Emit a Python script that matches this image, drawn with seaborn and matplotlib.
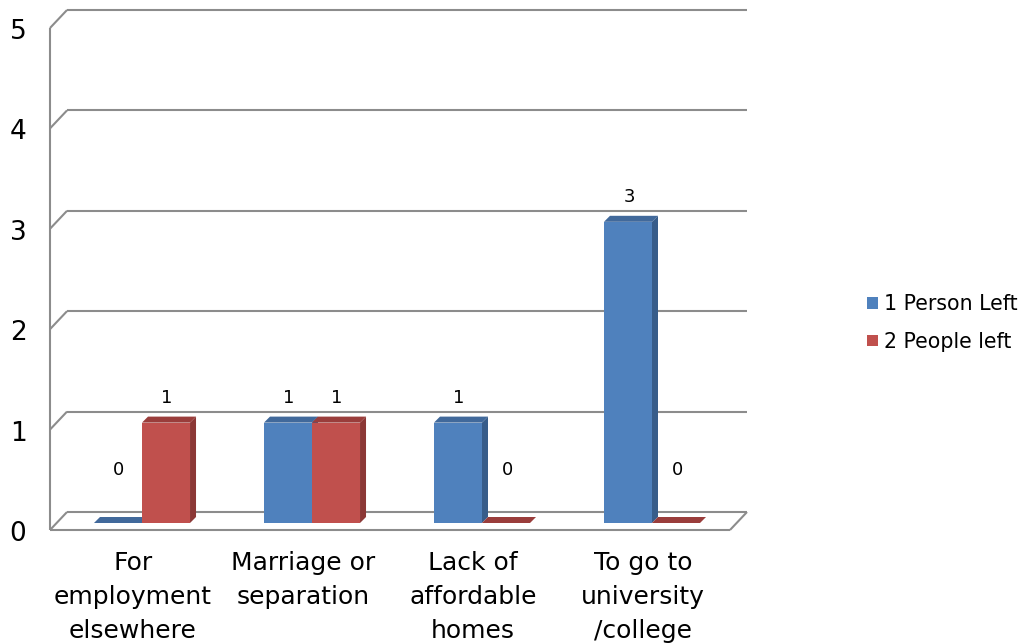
import matplotlib
matplotlib.use("Agg")
import matplotlib.pyplot as plt
import matplotlib.transforms as mtransforms
from matplotlib.patches import Polygon
import pandas as pd
import seaborn as sns

# ---- data -------------------------------------------------------------
categories = ["For\nemployment\nelsewhere", "Marriage or\nseparation",
              "Lack of\naffordable\nhomes", "To go to\nuniversity\n/college"]
series_names = ["1 Person Left", "2 People left"]
one_person_left = [0, 1, 1, 3]
two_people_left = [1, 1, 0, 0]
y_ticks = [0, 1, 2, 3, 4, 5]

# ---- styling ----------------------------------------------------------
BLUE, RED = "#4F81BD", "#C0504D"
BLUE_SIDE, RED_SIDE = "#385D8A", "#8C3836"
BLUE_TOP, RED_TOP = "#41699B", "#9A3D3B"
GRID = "#8C8C8C"
FONT = ["DejaVu Sans"]

sns.set_theme(style="white")
plt.rcParams["font.family"] = FONT
plt.rcParams["text.color"] = "black"

df = pd.DataFrame({
    "reason": categories * 2,
    "count": one_person_left + two_people_left,
    "series": [series_names[0]] * 4 + [series_names[1]] * 4,
})

W, H = 1022, 643
fig = plt.figure(figsize=(W / 100, H / 100), dpi=100)
fig.patch.set_facecolor("white")
ax = fig.add_axes([57 / W, (H - 523) / H, 680 / W, 502 / H])

sns.barplot(data=df, x="reason", y="count", hue="series", order=categories,
            hue_order=series_names, palette=[BLUE, RED], saturation=1,
            width=0.565, linewidth=0, ax=ax, zorder=3, errorbar=None)

ax.set_xlim(-0.5, 3.5)
ax.set_ylim(0, 5)
ax.set_xlabel("")
ax.set_ylabel("")
for s in ax.spines.values():
    s.set_visible(False)
ax.set_facecolor("none")

# pixel -> data unit conversion for the depth effect
ux = 4.0 / 680.0
uy = 5.0 / 502.0

def px(dx, dy):
    return dx * ux, dy * uy

# back wall (gridlines), left wall diagonals, floor
bdx, bdy = px(10, 11)
fdx, fdy = px(-7, -7)
line_kw = dict(color=GRID, lw=1.5, clip_on=False, zorder=1,
               solid_capstyle="butt")
for v in y_ticks:
    ax.plot([-0.5 + bdx, 3.5 + bdx], [v + bdy, v + bdy], **line_kw)
    ax.plot([-0.5 + fdx, -0.5 + bdx], [v + fdy, v + bdy], **line_kw)
ax.plot([-0.5 + fdx, -0.5 + fdx], [0 + fdy, 5 + fdy], **line_kw)
ax.plot([-0.5 + fdx, 3.5 + fdx], [0 + fdy, 0 + fdy], **line_kw)
ax.plot([3.5 + fdx, 3.5 + bdx], [0 + fdy, 0 + bdy], **line_kw)

# 3D side and top faces of each bar
ddx, ddy = px(6, 6)
shades = [(BLUE_SIDE, BLUE_TOP), (RED_SIDE, RED_TOP)]
for cont, (side_c, top_c) in zip(ax.containers, shades):
    for bar, v in zip(cont.patches, cont.datavalues):
        x0 = bar.get_x()
        x1 = x0 + bar.get_width()
        side = Polygon([(x1, 0), (x1, v), (x1 + ddx, v + ddy), (x1 + ddx, ddy)],
                       closed=True, facecolor=side_c, edgecolor="none", zorder=2)
        top = Polygon([(x0, v), (x1, v), (x1 + ddx, v + ddy), (x0 + ddx, v + ddy)],
                      closed=True, facecolor=top_c, edgecolor="none", zorder=2)
        ax.add_patch(side)
        ax.add_patch(top)
        off_px = 25 if v > 0 else 53
        ax.annotate(f"{int(v)}", xy=((x0 + x1) / 2 + 1 * ux, v),
                    xytext=(0, off_px * 72 / 100), textcoords="offset points",
                    ha="center", va="center", fontsize=13, color="black",
                    zorder=5)

# ticks
ax.set_yticks(y_ticks)
ax.set_yticklabels([str(t) for t in y_ticks])
ax.tick_params(axis="y", length=0, pad=22, labelsize=19, labelcolor="black")
ax.tick_params(axis="x", length=0, pad=20, labelsize=18, labelcolor="black")
for lab in ax.get_yticklabels():
    lab.set_transform(lab.get_transform() + mtransforms.Affine2D().translate(0, -8))
for lab in ax.get_xticklabels():
    lab.set_transform(lab.get_transform() + mtransforms.Affine2D().translate(-9, 0))
    lab.set_linespacing(1.52)

# legend
sns.move_legend(ax, loc="center left", bbox_to_anchor=(857 / W, 320 / H),
                bbox_transform=fig.transFigure, frameon=False, title=None,
                fontsize=14.8, handlelength=0.5, handleheight=0.5,
                handletextpad=0.3, labelspacing=0.85, borderpad=0)
for t in ax.get_legend().get_texts():
    t.set_color("black")

fig.savefig("out.png", dpi=100, facecolor="white")
